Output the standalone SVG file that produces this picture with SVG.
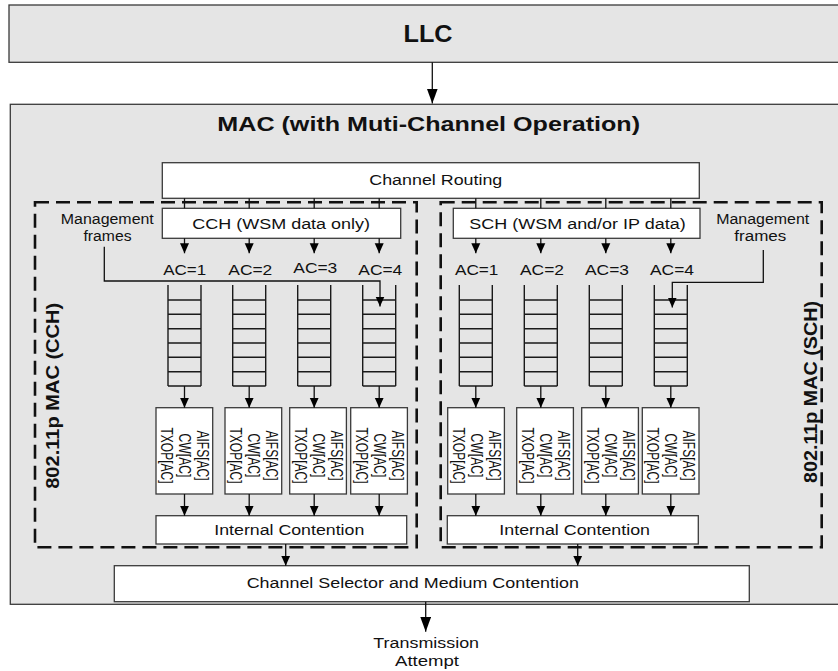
<svg xmlns="http://www.w3.org/2000/svg" width="838" height="671" viewBox="0 0 838 671">
  <defs>
    <style>
      .band{fill:#e5e5e5;stroke:#3a3a3a;stroke-width:1.3}
      .box{fill:#ffffff;stroke:#3a3a3a;stroke-width:1.3}
      .dash{fill:none;stroke:#111;stroke-width:2.6;stroke-dasharray:14 7}
      .ln{fill:none;stroke:#111;stroke-width:1.3}
      .arr{fill:none;stroke:#111;stroke-width:1.3;marker-end:url(#ah)}
      .arrL{fill:none;stroke:#111;stroke-width:1.3;marker-end:url(#ahL)}
      .q{fill:none;stroke:#1a1a1a;stroke-width:1.4}
      text{font-family:"Liberation Sans",Arial,Helvetica,sans-serif;fill:#111}
      .t{font-size:15.5px;text-anchor:middle}
      .h{font-weight:bold;text-anchor:middle}
      .p{font-size:16px;text-anchor:middle}
      .v{font-size:18px;font-weight:bold;text-anchor:middle}
    </style>
    <marker id="ah" viewBox="0 0 10 10" refX="10" refY="5" markerWidth="10" markerHeight="10" markerUnits="userSpaceOnUse" orient="auto">
      <path d="M0,0.5 L10,5 L0,9.5 Z" fill="#000"/>
    </marker>
    <marker id="ahL" viewBox="0 0 15 11" refX="15" refY="5.5" markerWidth="15" markerHeight="11" markerUnits="userSpaceOnUse" orient="auto">
      <path d="M0,0 L15,5.5 L0,11 Z" fill="#000"/>
    </marker>
    <!-- one FIFO queue: open top, six slots -->
    <path id="fifo" class="q" d="M0,0 V101 M33,0 V101 M0,15 H33 M0,29.3 H33 M0,43.7 H33 M0,58 H33 M0,72.3 H33 M0,86.7 H33 M0,101 H33"/>
  </defs>

  <rect width="838" height="671" fill="#ffffff"/>

  <!-- LLC layer -->
  <g id="llc">
    <rect class="band" x="9" y="5" width="840" height="57.3"/>
    <text class="h" x="428" y="41.7" font-size="23" textLength="49" lengthAdjust="spacingAndGlyphs">LLC</text>
  </g>

  <!-- MAC layer -->
  <g id="mac">
    <rect class="band" x="10.3" y="104.3" width="840" height="500"/>
    <text class="h" x="428.7" y="131" font-size="21" textLength="422.7" lengthAdjust="spacingAndGlyphs">MAC (with Muti-Channel Operation)</text>
  </g>

  <!-- dashed channel frames -->
  <g id="cch-frame">
    <rect class="dash" x="35" y="202.3" width="381.7" height="345"/>
    <text class="v" transform="translate(59,395.8) rotate(-90)" textLength="186" lengthAdjust="spacingAndGlyphs">802.11p MAC (CCH)</text>
  </g>
  <g id="sch-frame">
    <rect class="dash" x="440.7" y="202.3" width="381" height="345"/>
    <text class="v" transform="translate(816.7,392) rotate(-90)" textLength="182" lengthAdjust="spacingAndGlyphs">802.11p MAC (SCH)</text>
  </g>

  <g id="channel-routing">
    <rect class="box" x="162.3" y="162.7" width="537" height="35.6"/>
    <text class="t" x="435.8" y="185" textLength="133" lengthAdjust="spacingAndGlyphs">Channel Routing</text>
  </g>

  <g id="cch">
    <rect class="box" x="162.3" y="208.3" width="238.4" height="30"/>
    <text class="t" x="281.2" y="229" textLength="177.7" lengthAdjust="spacingAndGlyphs">CCH (WSM data only)</text>
  </g>
  <g id="sch">
    <rect class="box" x="453.3" y="208.3" width="246.7" height="30"/>
    <text class="t" x="577.5" y="229" textLength="216.4" lengthAdjust="spacingAndGlyphs">SCH (WSM and/or IP data)</text>
  </g>

  <g id="mgmt-cch">
    <text class="t" x="107.3" y="224" textLength="93" lengthAdjust="spacingAndGlyphs">Management</text>
    <text class="t" x="107.5" y="240.7" textLength="48" lengthAdjust="spacingAndGlyphs">frames</text>
  </g>
  <g id="mgmt-sch">
    <text class="t" x="762.7" y="224" textLength="93" lengthAdjust="spacingAndGlyphs">Management</text>
    <text class="t" x="760.3" y="240.7" textLength="52" lengthAdjust="spacingAndGlyphs">frames</text>
  </g>

  <!-- access category labels -->
  <g id="ac-cch">
    <text class="t" x="184.7" y="275" textLength="43" lengthAdjust="spacingAndGlyphs">AC=1</text>
    <text class="t" x="250.3" y="275" textLength="44" lengthAdjust="spacingAndGlyphs">AC=2</text>
    <text class="t" x="315.3" y="272.7" textLength="44" lengthAdjust="spacingAndGlyphs">AC=3</text>
    <text class="t" x="380.3" y="275" textLength="44" lengthAdjust="spacingAndGlyphs">AC=4</text>
  </g>
  <g id="ac-sch">
    <text class="t" x="476.7" y="275" textLength="43.5" lengthAdjust="spacingAndGlyphs">AC=1</text>
    <text class="t" x="542" y="275" textLength="44" lengthAdjust="spacingAndGlyphs">AC=2</text>
    <text class="t" x="607" y="275" textLength="44" lengthAdjust="spacingAndGlyphs">AC=3</text>
    <text class="t" x="672" y="275" textLength="44" lengthAdjust="spacingAndGlyphs">AC=4</text>
  </g>

  <!-- transmit queues -->
  <g id="queues-cch">
    <use href="#fifo" x="168" y="285"/>
    <use href="#fifo" x="232.7" y="285"/>
    <use href="#fifo" x="297.7" y="285"/>
    <use href="#fifo" x="362.7" y="285"/>
  </g>
  <g id="queues-sch">
    <use href="#fifo" x="459.3" y="285"/>
    <use href="#fifo" x="524.3" y="285"/>
    <use href="#fifo" x="589.3" y="285"/>
    <use href="#fifo" x="654.3" y="285"/>
  </g>

  <!-- EDCA parameter sets, CCH -->
  <g id="edca-cch-1">
    <rect class="box" x="156" y="407.7" width="56.7" height="86.3"/>
    <text class="p" transform="translate(197,455.5) rotate(90)" textLength="50" lengthAdjust="spacingAndGlyphs">AIFS[AC]</text>
    <text class="p" transform="translate(179,455.5) rotate(90)" textLength="44" lengthAdjust="spacingAndGlyphs">CW[AC]</text>
    <text class="p" transform="translate(161,455.5) rotate(90)" textLength="56" lengthAdjust="spacingAndGlyphs">TXOP[AC]</text>
  </g>
  <g id="edca-cch-2">
    <rect class="box" x="225" y="407.7" width="56.7" height="86.3"/>
    <text class="p" transform="translate(266,455.5) rotate(90)" textLength="50" lengthAdjust="spacingAndGlyphs">AIFS[AC]</text>
    <text class="p" transform="translate(248,455.5) rotate(90)" textLength="44" lengthAdjust="spacingAndGlyphs">CW[AC]</text>
    <text class="p" transform="translate(230,455.5) rotate(90)" textLength="56" lengthAdjust="spacingAndGlyphs">TXOP[AC]</text>
  </g>
  <g id="edca-cch-3">
    <rect class="box" x="289.7" y="407.7" width="56.7" height="86.3"/>
    <text class="p" transform="translate(330.7,455.5) rotate(90)" textLength="50" lengthAdjust="spacingAndGlyphs">AIFS[AC]</text>
    <text class="p" transform="translate(312.7,455.5) rotate(90)" textLength="44" lengthAdjust="spacingAndGlyphs">CW[AC]</text>
    <text class="p" transform="translate(294.7,455.5) rotate(90)" textLength="56" lengthAdjust="spacingAndGlyphs">TXOP[AC]</text>
  </g>
  <g id="edca-cch-4">
    <rect class="box" x="350.7" y="407.7" width="56.7" height="86.3"/>
    <text class="p" transform="translate(391.7,455.5) rotate(90)" textLength="50" lengthAdjust="spacingAndGlyphs">AIFS[AC]</text>
    <text class="p" transform="translate(373.7,455.5) rotate(90)" textLength="44" lengthAdjust="spacingAndGlyphs">CW[AC]</text>
    <text class="p" transform="translate(355.7,455.5) rotate(90)" textLength="56" lengthAdjust="spacingAndGlyphs">TXOP[AC]</text>
  </g>

  <!-- EDCA parameter sets, SCH -->
  <g id="edca-sch-1">
    <rect class="box" x="447.7" y="407.7" width="56.7" height="86.3"/>
    <text class="p" transform="translate(488.7,455.5) rotate(90)" textLength="50" lengthAdjust="spacingAndGlyphs">AIFS[AC]</text>
    <text class="p" transform="translate(470.7,455.5) rotate(90)" textLength="44" lengthAdjust="spacingAndGlyphs">CW[AC]</text>
    <text class="p" transform="translate(452.7,455.5) rotate(90)" textLength="56" lengthAdjust="spacingAndGlyphs">TXOP[AC]</text>
  </g>
  <g id="edca-sch-2">
    <rect class="box" x="516.7" y="407.7" width="56.7" height="86.3"/>
    <text class="p" transform="translate(557.7,455.5) rotate(90)" textLength="50" lengthAdjust="spacingAndGlyphs">AIFS[AC]</text>
    <text class="p" transform="translate(539.7,455.5) rotate(90)" textLength="44" lengthAdjust="spacingAndGlyphs">CW[AC]</text>
    <text class="p" transform="translate(521.7,455.5) rotate(90)" textLength="56" lengthAdjust="spacingAndGlyphs">TXOP[AC]</text>
  </g>
  <g id="edca-sch-3">
    <rect class="box" x="581.7" y="407.7" width="56.7" height="86.3"/>
    <text class="p" transform="translate(622.7,455.5) rotate(90)" textLength="50" lengthAdjust="spacingAndGlyphs">AIFS[AC]</text>
    <text class="p" transform="translate(604.7,455.5) rotate(90)" textLength="44" lengthAdjust="spacingAndGlyphs">CW[AC]</text>
    <text class="p" transform="translate(586.7,455.5) rotate(90)" textLength="56" lengthAdjust="spacingAndGlyphs">TXOP[AC]</text>
  </g>
  <g id="edca-sch-4">
    <rect class="box" x="642.3" y="407.7" width="56.7" height="86.3"/>
    <text class="p" transform="translate(683.3,455.5) rotate(90)" textLength="50" lengthAdjust="spacingAndGlyphs">AIFS[AC]</text>
    <text class="p" transform="translate(665.3,455.5) rotate(90)" textLength="44" lengthAdjust="spacingAndGlyphs">CW[AC]</text>
    <text class="p" transform="translate(647.3,455.5) rotate(90)" textLength="56" lengthAdjust="spacingAndGlyphs">TXOP[AC]</text>
  </g>

  <g id="contention-cch">
    <rect class="box" x="156" y="515.7" width="250.7" height="28.3"/>
    <text class="t" x="289.3" y="535" textLength="150" lengthAdjust="spacingAndGlyphs">Internal Contention</text>
  </g>
  <g id="contention-sch">
    <rect class="box" x="447.3" y="515.7" width="251" height="28.3"/>
    <text class="t" x="574.7" y="535" textLength="150.7" lengthAdjust="spacingAndGlyphs">Internal Contention</text>
  </g>

  <g id="channel-selector">
    <rect class="box" x="114.3" y="565.7" width="635" height="36"/>
    <text class="t" x="412.8" y="588.3" font-size="16" textLength="332.3" lengthAdjust="spacingAndGlyphs">Channel Selector and Medium Contention</text>
  </g>

  <g id="tx-attempt">
    <text class="t" x="426.2" y="647.5" textLength="105.7" lengthAdjust="spacingAndGlyphs">Transmission</text>
    <text class="t" x="427" y="666" textLength="64" lengthAdjust="spacingAndGlyphs">Attempt</text>
  </g>

  <!-- connectors -->
  <g id="connectors">
    <path class="arrL" d="M432.3,62.3 V103.5"/>

    <!-- routing to channel queues -->
    <path class="ln" d="M184.5,198.3 V208.3 M249.2,198.3 V208.3 M314.2,198.3 V208.3 M379.2,198.3 V208.3"/>
    <path class="ln" d="M475.8,198.3 V208.3 M540.8,198.3 V208.3 M605.8,198.3 V208.3 M670.8,198.3 V208.3"/>

    <path class="arr" d="M184.5,238.3 V253.3"/>
    <path class="arr" d="M249.2,238.3 V253.3"/>
    <path class="arr" d="M314.2,238.3 V253.3"/>
    <path class="arr" d="M379.2,238.3 V253.3"/>
    <path class="arr" d="M475.8,238.3 V253.3"/>
    <path class="arr" d="M540.8,238.3 V253.3"/>
    <path class="arr" d="M605.8,238.3 V253.3"/>
    <path class="arr" d="M670.8,238.3 V253.3"/>

    <!-- management frames into AC=4 queues -->
    <path class="arr" d="M104.3,246.7 V281 H380 V306.5"/>
    <path class="arr" d="M763.3,250 V282.3 H672.3 V307.5"/>

    <!-- queues to parameter sets -->
    <path class="arr" d="M184.5,386 V407.7"/>
    <path class="arr" d="M249.2,386 V407.7"/>
    <path class="arr" d="M314.2,386 V407.7"/>
    <path class="arr" d="M379.2,386 V407.7"/>
    <path class="arr" d="M475.8,386 V407.7"/>
    <path class="arr" d="M540.8,386 V407.7"/>
    <path class="arr" d="M605.8,386 V407.7"/>
    <path class="arr" d="M670.8,386 V407.7"/>

    <!-- parameter sets to internal contention -->
    <path class="arr" d="M184.5,494 V515.7"/>
    <path class="arr" d="M249.2,494 V515.7"/>
    <path class="arr" d="M314.2,494 V515.7"/>
    <path class="arr" d="M379.2,494 V515.7"/>
    <path class="arr" d="M475.8,494 V515.7"/>
    <path class="arr" d="M540.8,494 V515.7"/>
    <path class="arr" d="M605.8,494 V515.7"/>
    <path class="arr" d="M670.8,494 V515.7"/>

    <!-- internal contention to channel selector -->
    <path class="arr" d="M285.7,544 V565.7"/>
    <path class="arr" d="M577.7,544 V565.7"/>

    <path class="arrL" d="M425.7,601.7 V631.7"/>
  </g>
</svg>
